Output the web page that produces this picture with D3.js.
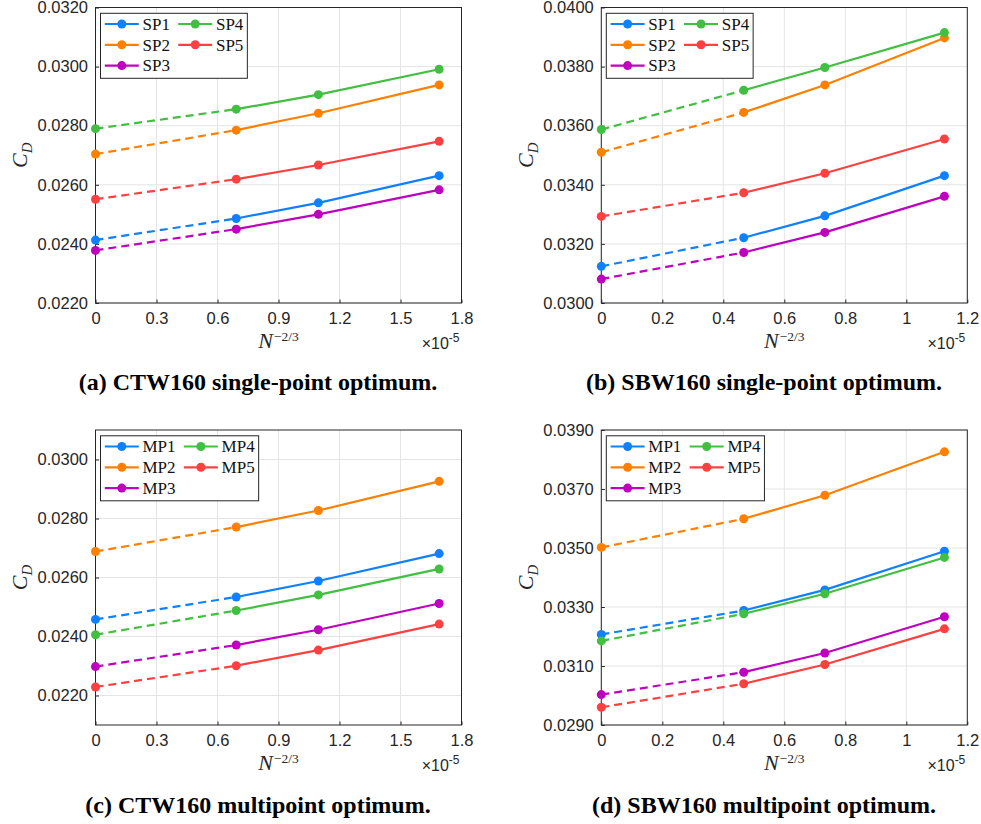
<!DOCTYPE html>
<html>
<head>
<meta charset="utf-8">
<script src="https://cdn.jsdelivr.net/npm/d3@7"></script>
<style>
  body { margin: 0; background: #fff; }
</style>
</head>
<body>
<div id="chart"></div>
<script>
// x positions, in units of 1e-5
const ctwX = [0, 0.692, 1.096, 1.69];
const sbwX = [0, 0.467, 0.733, 1.125];

const spNames = ['SP1', 'SP2', 'SP3', 'SP4', 'SP5'];
const mpNames = ['MP1', 'MP2', 'MP3', 'MP4', 'MP5'];

// C_D values, one row per series (first value is the extrapolated one)
const ctwSingle = [
  [0.02413, 0.02486, 0.02539, 0.02631],
  [0.02704, 0.02785, 0.02842, 0.02938],
  [0.02378, 0.0245, 0.025, 0.02583],
  [0.0279, 0.02856, 0.02905, 0.02991],
  [0.02551, 0.02619, 0.02667, 0.02747],
];
const sbwSingle = [
  [0.03124, 0.03221, 0.03295, 0.03431],
  [0.0351, 0.03645, 0.03738, 0.03897],
  [0.03081, 0.03171, 0.03239, 0.03361],
  [0.03587, 0.0372, 0.03797, 0.03915],
  [0.03293, 0.03373, 0.03439, 0.03555],
];
const ctwMulti = [
  [0.02458, 0.02534, 0.02588, 0.02681],
  [0.02688, 0.02771, 0.02827, 0.02926],
  [0.02298, 0.02371, 0.02423, 0.02512],
  [0.02406, 0.02488, 0.02541, 0.02629],
  [0.02229, 0.02301, 0.02354, 0.02442],
];
const sbwMulti = [
  [0.03207, 0.03288, 0.03358, 0.03489],
  [0.03502, 0.03599, 0.03679, 0.03826],
  [0.03003, 0.03079, 0.03144, 0.03267],
  [0.03185, 0.03277, 0.03345, 0.03468],
  [0.0296, 0.0304, 0.03105, 0.03226],
];

// axis domains and ticks
const ctwXDomain = [0, 1.8];
const ctwXTicks = [0, 0.3, 0.6, 0.9, 1.2, 1.5, 1.8];
const sbwXDomain = [0, 1.2];
const sbwXTicks = [0, 0.2, 0.4, 0.6, 0.8, 1, 1.2];

const yDomainA = [0.022, 0.032];
const yTicksA = [0.022, 0.024, 0.026, 0.028, 0.03, 0.032];
const yDomainB = [0.03, 0.04];
const yTicksB = [0.03, 0.032, 0.034, 0.036, 0.038, 0.04];
const yDomainC = [0.021, 0.031];
const yTicksC = [0.022, 0.024, 0.026, 0.028, 0.03];
const yDomainD = [0.029, 0.039];
const yTicksD = [0.029, 0.031, 0.033, 0.035, 0.037, 0.039];

const captions = [
  '(a) CTW160 single-point optimum.',
  '(b) SBW160 single-point optimum.',
  '(c) CTW160 multipoint optimum.',
  '(d) SBW160 multipoint optimum.',
];

const colors = ['#0f80ff', '#ff8000', '#bf00bf', '#40bf40', '#ff4040'];
const axisColor = '#262626';
const gridColor = '#e4e4e4';

const plotW = 366;

const svg = d3
  .select('#chart')
  .append('svg')
  .attr('width', 981)
  .attr('height', 824);

const drawPanel = (p) => {
  const g = svg
    .append('g')
    .attr('transform', `translate(${p.left}, ${p.top})`);

  const x = d3.scaleLinear().domain(p.xDomain).range([0, plotW]);
  const y = d3.scaleLinear().domain(p.yDomain).range([p.height, 0]);

  // grid
  g.append('g')
    .selectAll('line')
    .data(p.xTicks)
    .join('line')
    .attr('x1', (d) => x(d))
    .attr('x2', (d) => x(d))
    .attr('y1', 0)
    .attr('y2', p.height)
    .attr('stroke', gridColor);
  g.append('g')
    .selectAll('line')
    .data(p.yTicks)
    .join('line')
    .attr('x1', 0)
    .attr('x2', plotW)
    .attr('y1', (d) => y(d))
    .attr('y2', (d) => y(d))
    .attr('stroke', gridColor);

  // axes
  const xAxis = g
    .append('g')
    .attr('transform', `translate(0, ${p.height})`)
    .call(
      d3
        .axisBottom(x)
        .tickValues(p.xTicks)
        .tickSizeInner(-3.5)
        .tickSizeOuter(0)
        .tickPadding(9.5)
        .tickFormat(d3.format('~g'))
    );
  const yAxis = g
    .append('g')
    .call(
      d3
        .axisLeft(y)
        .tickValues(p.yTicks)
        .tickSizeInner(-3.5)
        .tickSizeOuter(0)
        .tickPadding(7.5)
        .tickFormat(d3.format('.4f'))
    );
  [xAxis, yAxis].forEach((a) => {
    a.select('.domain').remove();
    a.selectAll('line').attr('stroke', axisColor);
    a.selectAll('text')
      .attr('fill', axisColor)
      .style('font-family', '"Liberation Sans", Arial, sans-serif')
      .style('font-size', '16.5px');
  });

  g.append('rect')
    .attr('width', plotW)
    .attr('height', p.height)
    .attr('fill', 'none')
    .attr('stroke', axisColor)
    .attr('stroke-width', 1);

  // series
  const line = d3
    .line()
    .x((d) => x(d[0]))
    .y((d) => y(d[1]));

  p.values.forEach((vals, i) => {
    const pts = vals.map((v, j) => [p.xs[j], v]);
    g.append('path')
      .attr('d', line(pts.slice(0, 2)))
      .attr('fill', 'none')
      .attr('stroke', colors[i])
      .attr('stroke-width', 2.2)
      .attr('stroke-dasharray', '8,5');
    g.append('path')
      .attr('d', line(pts.slice(1)))
      .attr('fill', 'none')
      .attr('stroke', colors[i])
      .attr('stroke-width', 2.2);
    g.append('g')
      .selectAll('circle')
      .data(pts)
      .join('circle')
      .attr('cx', (d) => x(d[0]))
      .attr('cy', (d) => y(d[1]))
      .attr('r', 4.5)
      .attr('fill', colors[i]);
  });

  // legend
  const legend = g.append('g').attr('transform', 'translate(5, 5.8)');
  const box = legend
    .append('rect')
    .attr('fill', '#fff')
    .attr('stroke', axisColor)
    .attr('stroke-width', 1);
  const entries = legend
    .selectAll('.entry')
    .data(p.names)
    .join('g')
    .attr('class', 'entry');
  entries
    .append('text')
    .attr('x', 42)
    .attr('dy', '0.34em')
    .attr('fill', '#111')
    .style('font-family', '"Liberation Serif", "Times New Roman", serif')
    .style('font-size', '17px')
    .text((d) => d);
  const textW = d3.max(entries.nodes(), (n) =>
    n.querySelector('text').getComputedTextLength()
  );
  const colW = 42 + textW + 4;
  entries.attr(
    'transform',
    (d, i) =>
      `translate(${Math.floor(i / 3) * colW}, ${10.7 + (i % 3) * 20.8})`
  );
  entries
    .append('line')
    .attr('x1', 4.3)
    .attr('x2', 38.3)
    .attr('stroke', (d, i) => colors[i])
    .attr('stroke-width', 2.2);
  entries
    .append('circle')
    .attr('cx', 21.3)
    .attr('r', 4.5)
    .attr('fill', (d, i) => colors[i]);
  box.attr('width', colW * 2).attr('height', 65);

  // axis labels
  const xl = g
    .append('text')
    .attr('x', plotW / 2)
    .attr('y', p.height + 45)
    .attr('text-anchor', 'middle')
    .attr('fill', axisColor)
    .style('font-family', '"Liberation Serif", "Times New Roman", serif')
    .style('font-style', 'italic')
    .style('font-size', '22px');
  xl.append('tspan').text('N');
  xl.append('tspan')
    .attr('dx', 1)
    .attr('dy', -7)
    .style('font-size', '13.5px')
    .style('font-style', 'normal')
    .text('−2/3');

  g.append('text')
    .attr('x', plotW - 2)
    .attr('y', p.height + 46)
    .attr('text-anchor', 'end')
    .attr('fill', axisColor)
    .style('font-family', '"Liberation Sans", Arial, sans-serif')
    .style('font-size', '16px')
    .call((t) => {
      t.append('tspan').text('×10');
      t.append('tspan').attr('dy', -7).style('font-size', '12px').text('-5');
    });

  const yl = g
    .append('text')
    .attr('transform', `translate(-68.5, ${p.height / 2}) rotate(-90)`)
    .attr('text-anchor', 'middle')
    .attr('fill', axisColor)
    .style('font-family', '"Liberation Serif", "Times New Roman", serif')
    .style('font-style', 'italic')
    .style('font-size', '22px');
  yl.append('tspan').text('C');
  yl.append('tspan').attr('dy', 5).style('font-size', '15px').text('D');

  // caption
  svg
    .append('text')
    .attr('x', p.captionX)
    .attr('y', p.captionY)
    .attr('text-anchor', 'middle')
    .attr('fill', '#000')
    .style('font-family', '"Liberation Serif", "Times New Roman", serif')
    .style('font-weight', 'bold')
    .style('font-size', '24px')
    .text(p.caption);
};

drawPanel({
  left: 95.5, top: 7.5, height: 295.5,
  xDomain: ctwXDomain, xTicks: ctwXTicks, xs: ctwX,
  yDomain: yDomainA, yTicks: yTicksA,
  values: ctwSingle, names: spNames,
  caption: captions[0], captionX: 258, captionY: 390,
});
drawPanel({
  left: 601.3, top: 7.5, height: 295.5,
  xDomain: sbwXDomain, xTicks: sbwXTicks, xs: sbwX,
  yDomain: yDomainB, yTicks: yTicksB,
  values: sbwSingle, names: spNames,
  caption: captions[1], captionX: 764, captionY: 390,
});
drawPanel({
  left: 95.5, top: 430, height: 295,
  xDomain: ctwXDomain, xTicks: ctwXTicks, xs: ctwX,
  yDomain: yDomainC, yTicks: yTicksC,
  values: ctwMulti, names: mpNames,
  caption: captions[2], captionX: 258, captionY: 813,
});
drawPanel({
  left: 601.3, top: 430, height: 295,
  xDomain: sbwXDomain, xTicks: sbwXTicks, xs: sbwX,
  yDomain: yDomainD, yTicks: yTicksD,
  values: sbwMulti, names: mpNames,
  caption: captions[3], captionX: 764, captionY: 813,
});
</script>
</body>
</html>
